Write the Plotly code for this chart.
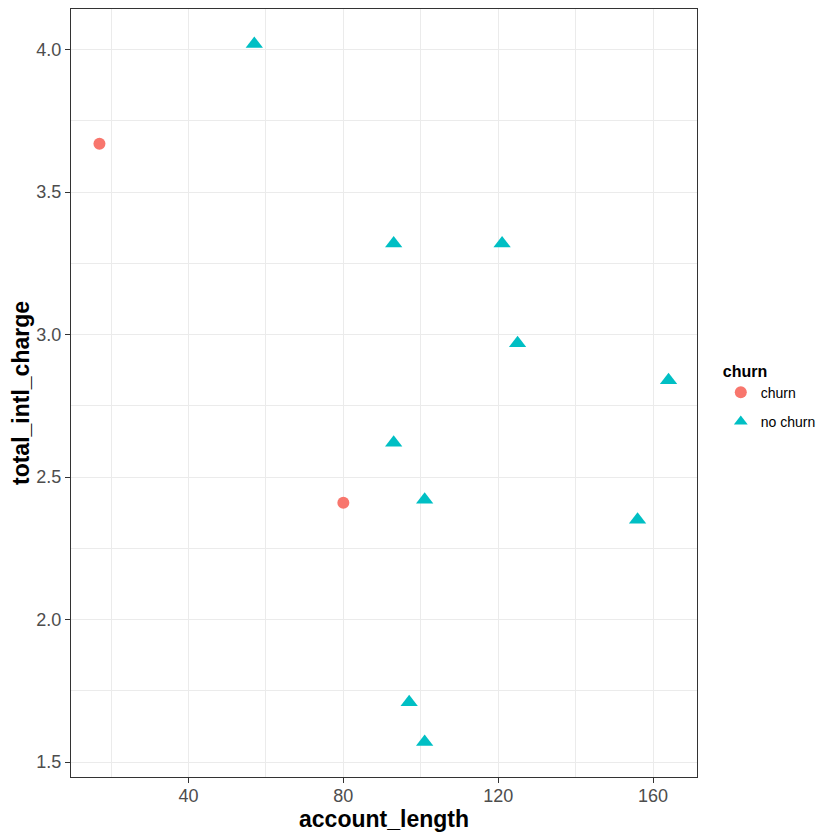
import plotly.graph_objects as go

# churn customers
churn_len = [17, 80]
churn_charge = [3.67, 2.41]

# no churn customers
nochurn_len = [57, 93, 121, 125, 164, 93, 101, 156, 97, 101]
nochurn_charge = [4.02, 3.32, 3.32, 2.97, 2.84, 2.62, 2.42, 2.35, 1.71, 1.57]

fig = go.Figure()
fig.add_trace(go.Scatter(x=churn_len, y=churn_charge, mode='markers', name='churn',
                         legendgroup='a',
                         marker=dict(symbol='circle', size=12, color='#F8766D')))
fig.add_trace(go.Scatter(x=nochurn_len, y=nochurn_charge, mode='markers', name='no churn',
                         legendgroup='b',
                         marker=dict(symbol='triangle-up', size=15, color='#00BFC4')))

axis_common = dict(
    showline=True, mirror=True, linecolor='#333333', linewidth=1,
    ticks='outside', ticklen=5, tickcolor='#333333',
    showgrid=True, gridcolor='#EBEBEB', gridwidth=1,
    zeroline=False, automargin=False,
    tickfont=dict(family='Liberation Sans, Arial', size=18, color='#4D4D4D'),
)

fig.update_layout(
    width=840, height=840,
    plot_bgcolor='white', paper_bgcolor='white',
    margin=dict(l=71, r=143, t=9, b=63),
    font=dict(family='Liberation Sans, Arial'),
    xaxis=dict(axis_common, range=[9.65, 171.35], tickvals=[40, 80, 120, 160],
               ticklabelstandoff=-3,
               minor=dict(tickvals=[20, 60, 100, 140], showgrid=True, gridcolor='#EBEBEB',
                          gridwidth=0.6, ticks=''),
               title=dict(text='<b>account_length</b>', font=dict(size=23, color='black'), standoff=2)),
    yaxis=dict(axis_common, range=[1.4475, 4.1425], tickvals=[1.5, 2.0, 2.5, 3.0, 3.5, 4.0],
               tickformat='.1f',
               minor=dict(tickvals=[1.75, 2.25, 2.75, 3.25, 3.75], showgrid=True, gridcolor='#EBEBEB',
                          gridwidth=0.6, ticks=''),
               title=dict(text='<b>total_intl_charge</b>', font=dict(size=23, color='black'), standoff=0)),
    legend=dict(x=1.038, y=0.495, yanchor='middle', xanchor='left',
                title=dict(text='<b>churn</b>', font=dict(size=16, color='black')),
                font=dict(size=14, color='black'), itemsizing='constant', tracegroupgap=8),
)

# page body has a default 8px margin; remove it so the figure sits at the window corner
fig.write_html("out.html", config={'displayModeBar': False},
               post_script="document.body.style.margin='0';")
